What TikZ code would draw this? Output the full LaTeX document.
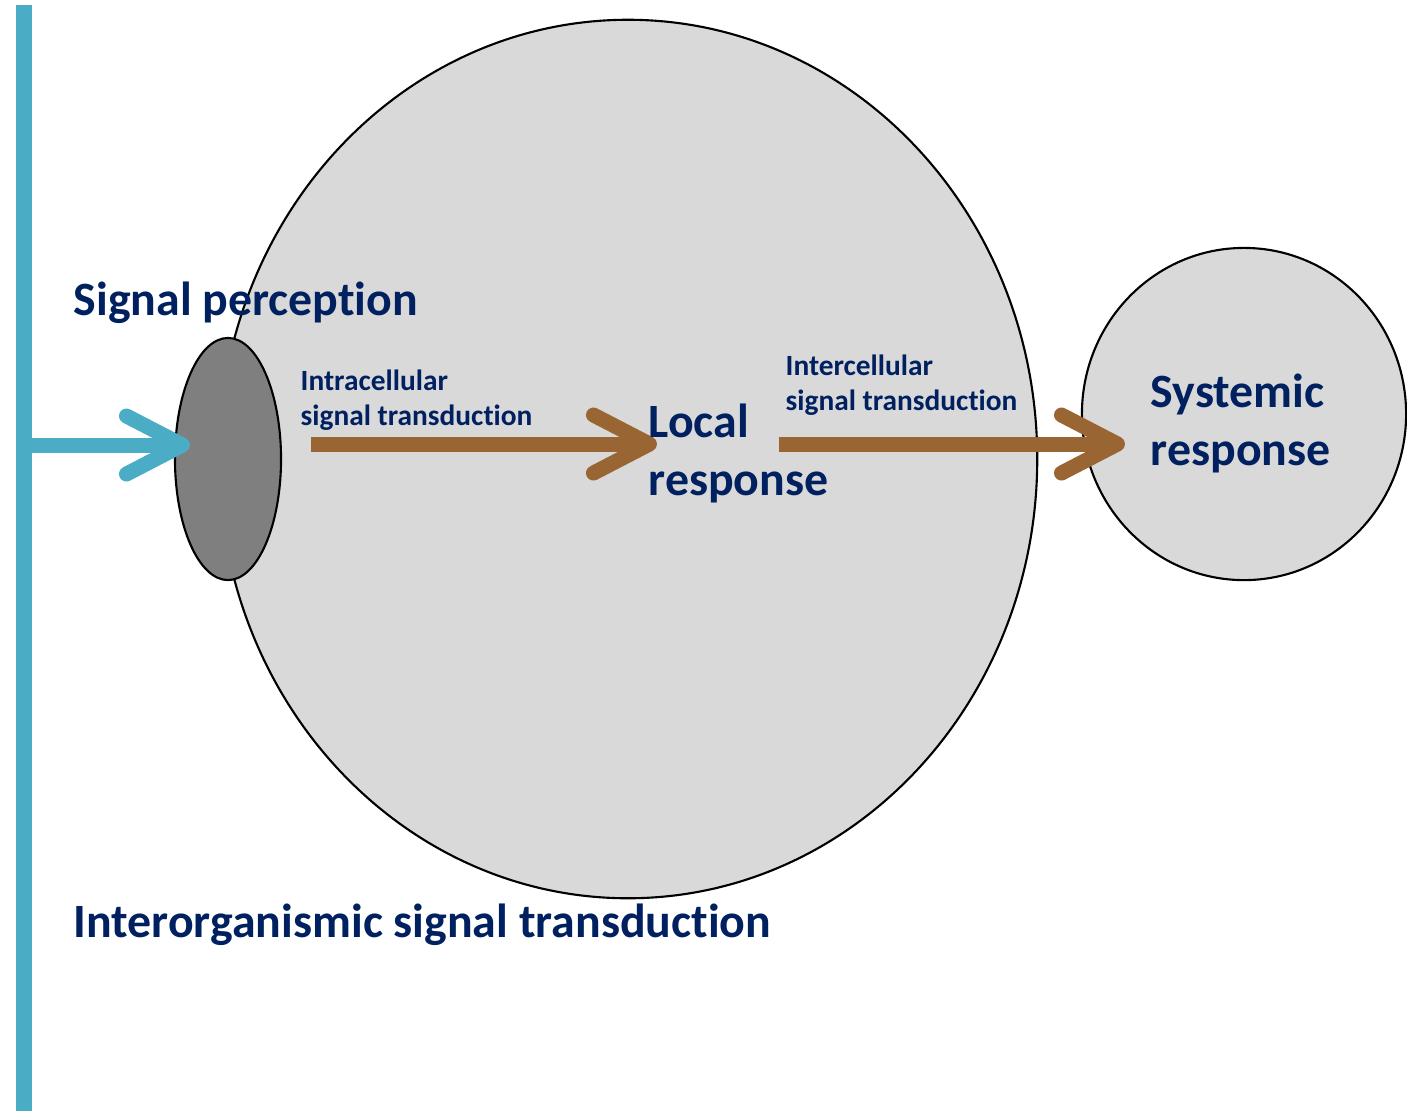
\documentclass[tikz,border=0pt]{standalone}
\usepackage{fontspec}
\setmainfont{Carlito}[Ligatures=NoCommon]
\usepackage{tikz}
\usetikzlibrary{arrows.meta, positioning, shapes.geometric}
\usepackage{xcolor}
\definecolor{cellGray}{RGB}{217, 217, 217}
\definecolor{recGray}{RGB}{127, 127, 127}
\definecolor{sigBlue}{RGB}{75, 172, 198}
\definecolor{sigBrown}{RGB}{153, 102, 51}
\definecolor{labNavy}{RGB}{0, 32, 96}

\begin{document}
\begin{tikzpicture}[x=0.01cm, y=-0.01cm, text=labNavy,
  cell/.style={ellipse, draw=black, line width=0.6pt, fill=cellGray, inner sep=0pt},
  biglab/.style={font=\fontsize{13.6}{16.4}\selectfont\bfseries, inner sep=0pt, anchor=base west, align=left},
  smalllab/.style={font=\fontsize{8.35}{9.7}\selectfont\bfseries, inner sep=0pt, anchor=base west, align=left},
  sig/.style={line width=0.15cm, -{Straight Barb[length=0.56cm, width=0.58cm, round]}}]
  \useasboundingbox (0,0) rectangle (1407,1111);
  % organism boundary
  \draw[sigBlue, line width=0.15cm] (24,5) -- (24,1111);
  % cells and receptor
  \node[cell, minimum width=8.18cm, minimum height=8.78cm] (local cell) at (628,459) {};
  \node[cell, minimum width=3.24cm, minimum height=3.32cm] (syst cell) at (1244,414) {};
  \node[cell, fill=recGray, minimum width=1.06cm, minimum height=2.42cm] (rec) at (228,459) {};
  % signal arrows
  \coordinate (src) at (24,445);
  \coordinate (in) at (190,445);
  \coordinate (intraS) at (311,444);
  \coordinate (intraE) at (657,444);
  \coordinate (interS) at (779,444);
  \coordinate (interE) at (1125,444);
  \draw[sig, sigBlue] (src) -- (in);
  \draw[sig, sigBrown] (intraS) -- (intraE);
  \draw[sig, sigBrown] (interS) -- (interE);
  % labels (two-line labels sit on their last baseline)
  \node[biglab] (perc) at (73,315) {Signal perception};
  \node[biglab] (interorg) at (73,937) {Interorganismic signal transduction};
  \node[biglab] (local) at (648,495) {Local\\response};
  \node[biglab] (systemic) at (1150,465) {Systemic\\response};
  \node[smalllab] (intra) at (300,425) {Intracellular\\signal transduction};
  \node[smalllab] (inter) at (785,410) {Intercellular\\signal transduction};
\end{tikzpicture}
\end{document}
